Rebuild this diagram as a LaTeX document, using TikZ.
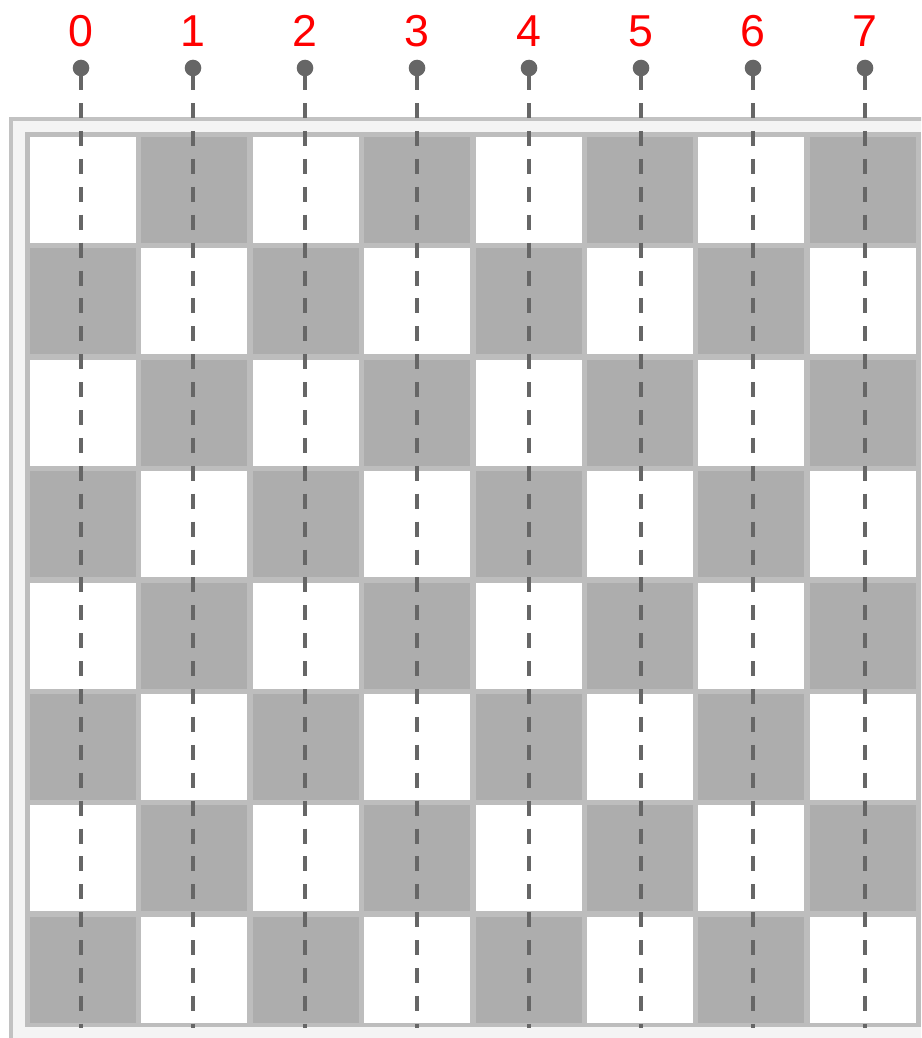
\documentclass[tikz,border=0pt]{standalone}
\usepackage{fontspec}
\setmainfont{Liberation Sans}
\usepackage{tikz}
\usetikzlibrary{positioning}
\definecolor{boardframe}{HTML}{C2C2C2}
\definecolor{boardfill}{HTML}{F4F4F4}
\definecolor{gridline}{HTML}{BDBDBD}
\definecolor{darksq}{HTML}{ADADAD}
\definecolor{pinline}{HTML}{666666}

\begin{document}
\begin{tikzpicture}[
  x=1pt, y=-1pt,
  pin/.style={circle, fill=pinline, minimum size=16.6pt, inner sep=0pt},
  colnum/.style={text=red, font=\fontsize{44.7}{50}\selectfont, anchor=base, inner sep=0pt},
  rail/.style={draw=pinline, line width=4pt, dash pattern=on 15pt off 12.9pt, dash phase=1.3pt}
]
  \useasboundingbox (0,0) rectangle (921,1038);
  \clip (0,0) rectangle (921,1038);

  % Board
  \draw[boardframe, line width=4pt, fill=boardfill] (11,119) rectangle (960,1070);
  \fill[gridline] (25,132) rectangle (921,1027);
  \foreach \r in {0,...,7}{
    \foreach \c in {0,...,7}{
      \pgfmathtruncatemacro{\parity}{mod(\r+\c,2)}
      \ifnum\parity=1 \def\sqfill{darksq}\else\def\sqfill{white}\fi
      \fill[\sqfill] ({30+111.4*\c},{137+111.4*\r}) rectangle ++(106,106);
    }
  }

  % Column pins
  \foreach \i in {0,...,7}{
    \node[pin] (p\i) at ({81+112*\i},68) {};
    \node[colnum] (l\i) at ({81+112*\i},47) {\i};
    \coordinate (b\i) at ({81+112*\i},1028);
    \draw[rail] (p\i) -- (b\i);
  }
\end{tikzpicture}
\end{document}
